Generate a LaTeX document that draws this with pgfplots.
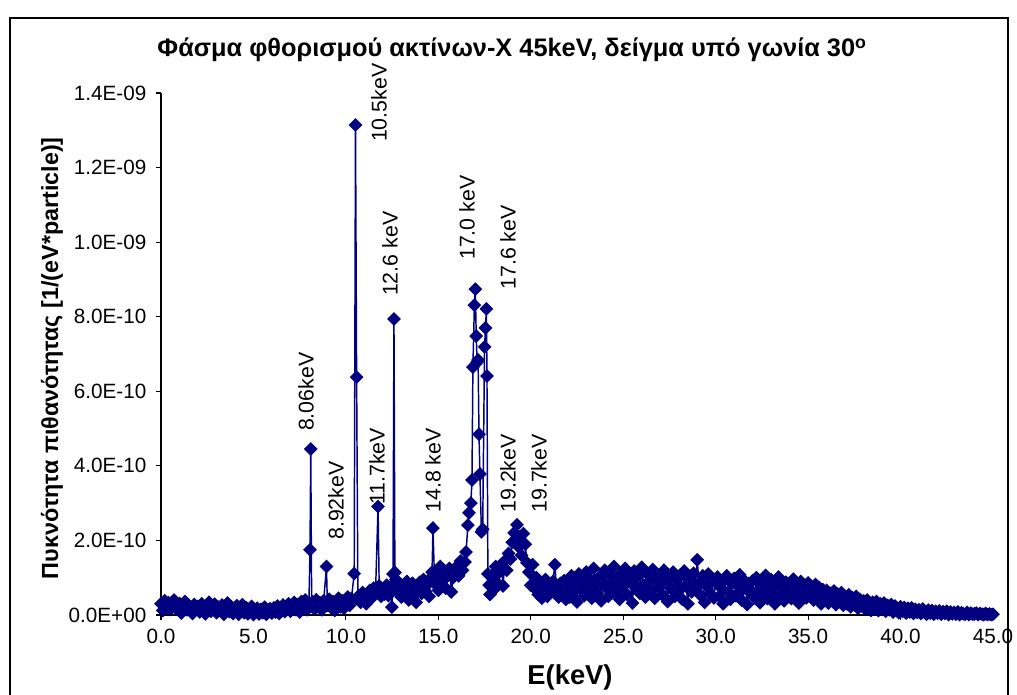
\documentclass[border=0pt]{standalone}
\usepackage{fontspec}
\setmainfont{Liberation Sans}
\usepackage{pgfplots}
\usepackage{pgfplotstable}
\pgfplotsset{compat=1.18}
\definecolor{navyx}{RGB}{0,0,128}
\pgfplotstableread{
x y
0.0 0.30
0.1 0.12
0.2 0.38
0.3 0.21
0.4 0.33
0.5 0.15
0.6 0.27
0.7 0.40
0.8 0.18
0.9 0.25
1.0 0.31
1.1 0.05
1.2 0.22
1.3 0.36
1.4 0.14
1.5 0.26
1.6 0.19
1.7 0.04
1.8 0.28
1.9 0.17
2.0 0.23
2.1 0.08
2.2 0.30
2.3 0.16
2.4 0.03
2.5 0.24
2.6 0.34
2.7 0.10
2.8 0.20
2.9 0.29
3.0 0.06
3.1 0.21
3.2 0.12
3.3 0.27
3.4 0.02
3.5 0.18
3.6 0.32
3.7 0.09
3.8 0.22
3.9 0.04
4.0 0.19
4.1 0.25
4.2 0.02
4.3 0.14
4.4 0.28
4.5 0.06
4.6 0.20
4.7 0.03
4.8 0.16
4.9 0.23
5.0 0.01
5.1 0.12
5.2 0.18
5.3 0.03
5.4 0.15
5.5 0.06
5.6 0.21
5.7 0.02
5.8 0.13
5.9 0.17
6.0 0.05
6.1 0.19
6.2 0.08
6.3 0.24
6.4 0.04
6.5 0.16
6.6 0.27
6.7 0.09
6.8 0.20
6.9 0.30
7.0 0.10
7.1 0.25
7.2 0.34
7.3 0.14
7.4 0.28
7.5 0.08
7.6 0.36
7.7 0.18
7.8 0.40
7.9 0.14
8.0 0.30
8.06 1.75
8.10 4.45
8.15 0.24
8.2 0.35
8.3 0.16
8.4 0.41
8.5 0.22
8.6 0.33
8.7 0.14
8.8 0.38
8.95 1.30
9.0 0.26
9.1 0.42
9.2 0.20
9.3 0.36
9.4 0.12
9.5 0.32
9.6 0.45
9.7 0.22
9.8 0.38
9.9 0.18
10.0 0.41
10.1 0.48
10.2 0.26
10.3 0.44
10.45 1.11
10.52 13.14
10.58 6.38
10.65 0.45
10.7 0.52
10.8 0.34
10.9 0.60
11.0 0.42
11.1 0.30
11.2 0.58
11.3 0.66
11.4 0.46
11.5 0.72
11.6 0.56
11.74 2.91
11.8 0.78
11.9 0.50
12.0 0.70
12.1 0.56
12.2 0.80
12.3 0.52
12.4 0.74
12.49 0.21
12.55 1.10
12.6 7.94
12.65 1.14
12.7 0.95
12.8 0.62
12.9 0.85
13.0 0.48
13.1 0.78
13.2 0.56
13.3 0.90
13.4 0.40
13.5 0.72
13.6 0.85
13.7 0.54
13.8 0.34
13.9 0.75
14.0 0.88
14.1 0.58
14.2 0.95
14.3 0.64
14.4 0.82
14.5 0.50
14.6 1.00
14.66 1.15
14.71 2.33
14.8 0.84
14.9 1.10
15.0 0.66
15.1 1.30
15.2 0.90
15.3 1.20
15.4 0.72
15.5 1.05
15.6 1.25
15.7 0.62
15.8 1.00
15.9 1.15
16.0 1.30
16.1 1.05
16.2 1.45
16.3 1.20
16.44 1.42
16.50 1.69
16.60 2.41
16.66 2.74
16.76 3.00
16.82 3.62
16.87 6.65
16.95 8.31
17.00 8.74
17.05 7.48
17.10 6.78
17.15 6.84
17.20 4.85
17.25 3.78
17.33 2.23
17.40 2.30
17.50 7.19
17.55 7.70
17.60 8.21
17.63 6.41
17.68 1.10
17.75 0.80
17.8 0.55
17.9 1.05
18.0 0.68
18.1 1.30
18.2 0.85
18.3 1.15
18.4 1.35
18.5 0.78
18.6 1.45
18.7 1.20
18.8 1.65
18.9 1.50
19.0 1.95
19.1 2.20
19.25 2.42
19.3 1.85
19.4 2.10
19.5 1.60
19.6 2.18
19.7 1.90
19.8 1.40
19.9 1.15
20.0 0.80
20.1 1.35
20.2 0.72
20.3 1.00
20.4 0.55
20.5 0.90
20.6 0.45
20.7 0.78
20.8 0.95
20.9 0.50
21.0 0.82
21.1 0.62
21.2 0.90
21.3 1.35
21.4 0.68
21.5 0.48
21.6 0.85
21.7 0.55
21.8 0.92
21.9 0.42
22.0 0.80
22.1 0.48
22.2 1.05
22.3 0.62
22.4 0.92
22.5 0.35
22.6 1.10
22.7 0.70
22.8 0.88
22.9 0.52
23.0 1.15
23.1 0.66
23.2 0.95
23.3 0.45
23.4 1.25
23.5 0.80
23.6 0.58
23.7 1.02
23.8 0.38
23.9 0.90
24.0 1.20
24.1 0.72
24.2 0.50
24.3 1.08
24.4 0.84
24.5 1.30
24.6 0.62
24.7 0.95
24.8 0.42
24.9 1.12
25.0 0.78
25.1 1.25
25.2 0.55
25.3 1.00
25.4 0.86
25.5 0.32
25.6 1.18
25.7 0.70
25.8 1.05
25.9 0.58
26.0 1.28
26.1 0.80
26.2 0.48
26.3 1.10
26.4 0.88
26.5 0.64
26.6 1.22
26.7 0.45
26.8 0.98
26.9 0.74
27.0 1.05
27.1 0.55
27.2 1.20
27.3 0.84
27.4 0.36
27.5 1.02
27.6 0.70
27.7 1.15
27.8 0.50
27.9 0.94
28.0 0.64
28.1 1.08
28.2 0.42
28.3 1.18
28.4 0.80
28.5 0.30
28.6 0.98
28.7 0.62
28.8 1.12
28.9 0.74
29.0 1.48
29.1 0.86
29.2 0.52
29.3 1.05
29.4 0.34
29.5 0.78
29.6 1.10
29.7 0.58
29.8 0.95
29.9 0.46
30.0 0.88
30.1 1.02
30.2 0.50
30.3 0.72
30.4 0.30
30.5 0.94
30.6 1.05
30.7 0.62
30.8 0.42
30.9 0.85
31.0 0.98
31.1 0.52
31.2 0.78
31.3 1.08
31.4 0.40
31.5 0.70
31.6 0.90
31.7 0.28
31.8 0.84
31.9 0.58
32.0 0.92
32.1 0.46
32.2 1.00
32.3 0.66
32.4 0.33
32.5 0.86
32.6 0.55
32.7 1.06
32.8 0.44
32.9 0.76
33.0 0.95
33.1 0.60
33.2 0.30
33.3 0.80
33.4 1.02
33.5 0.50
33.6 0.74
33.7 0.38
33.8 0.88
33.9 0.62
34.0 0.84
34.1 0.44
34.2 0.96
34.3 0.58
34.4 0.76
34.5 0.32
34.6 0.90
34.7 0.54
34.8 0.80
34.9 0.46
35.0 0.86
35.1 0.56
35.2 0.72
35.3 0.40
35.4 0.82
35.5 0.50
35.6 0.74
35.7 0.30
35.8 0.68
35.9 0.46
36.0 0.66
36.1 0.32
36.2 0.58
36.3 0.42
36.4 0.64
36.5 0.28
36.6 0.56
36.7 0.36
36.8 0.60
36.9 0.26
37.0 0.50
37.1 0.30
37.2 0.54
37.3 0.22
37.4 0.46
37.5 0.28
37.6 0.50
37.7 0.18
37.8 0.42
37.9 0.24
38.0 0.38
38.1 0.16
38.2 0.40
38.3 0.22
38.4 0.12
38.5 0.34
38.6 0.20
38.7 0.36
38.8 0.12
38.9 0.30
39.0 0.16
39.1 0.32
39.2 0.10
39.3 0.26
39.4 0.14
39.5 0.28
39.6 0.08
39.7 0.24
39.8 0.12
39.9 0.06
40.0 0.22
40.1 0.10
40.2 0.20
40.3 0.05
40.4 0.18
40.5 0.08
40.6 0.19
40.7 0.04
40.8 0.15
40.9 0.07
41.0 0.14
41.1 0.04
41.2 0.16
41.3 0.07
41.4 0.02
41.5 0.13
41.6 0.05
41.7 0.12
41.8 0.02
41.9 0.10
42.0 0.05
42.1 0.11
42.2 0.02
42.3 0.09
42.4 0.04
42.5 0.10
42.6 0.01
42.7 0.08
42.8 0.03
42.9 0.07
43.0 0.02
43.1 0.08
43.2 0.01
43.3 0.06
43.4 0.03
43.5 0.02
43.6 0.07
43.7 0.01
43.8 0.05
43.9 0.02
44.0 0.03
44.1 0.05
44.2 0.01
44.3 0.04
44.4 0.02
44.5 0.01
44.6 0.04
44.7 0.01
44.8 0.03
44.9 0.01
45.0 0.02
}\spectrum
\begin{document}
\begin{tikzpicture}
\useasboundingbox (-120.75pt,-60pt) rectangle (642pt,461.25pt);
\draw[line width=0.8pt] (-113.25pt,-80pt) rectangle (635.25pt,447.75pt);
\begin{axis}[
  at={(0pt,0pt)}, anchor=south west,
  scale only axis, width=624pt, height=391.5pt,
  xmin=0, xmax=45, ymin=0, ymax=14,
  axis x line=bottom, axis y line=left,
  axis line style={-, line width=0.8pt},
  tick align=outside, major tick length=4pt,
  tick style={black, line width=0.8pt},
  xtick={0,5,...,45},
  ytick={0,2,...,14},
  yticklabels={0.0E+00,2.0E-10,4.0E-10,6.0E-10,8.0E-10,1.0E-09,1.2E-09,1.4E-09},
  /pgf/number format/fixed, /pgf/number format/fixed zerofill,
  /pgf/number format/precision=1, /pgf/number format/assume math mode=true,
  tick label style={font=\fontsize{15.5}{17}\selectfont},
  xticklabel style={yshift=-3pt},
  yticklabel style={xshift=-3.5pt},
  clip=false,
  every axis title shift=0pt,
  title={Φάσμα φθορισμού ακτίνων-X 45keV, δείγμα υπό γωνία 30\textsuperscript{o}},
  title style={font=\bfseries\fontsize{19}{21}\selectfont, at={(axis description cs:0.4219,1.069)}, anchor=base},
  xlabel={E(keV)},
  xlabel style={font=\bfseries\fontsize{20.5}{22}\selectfont, at={(axis description cs:0.4916,-0.134)}, anchor=base},
  ylabel={Πυκνότητα πιθανότητας [1/(eV*particle)]},
  ylabel style={font=\bfseries\fontsize{17.5}{20}\selectfont, at={(axis description cs:-0.131,0.492)}, anchor=center},
]
\addplot[color=navyx, line width=1.1pt, mark=diamond*, mark size=4.4pt,
  mark options={solid, fill=navyx, draw=navyx, xscale=1.33}] table[x=x, y=y] {\spectrum};
\begin{scope}[every node/.style={rotate=90, anchor=west, inner sep=0pt, font=\fontsize{16}{18}\selectfont}]
\node at (axis cs:7.84,4.93) {8.06keV};
\node at (axis cs:9.47,2.01) {8.92keV};
\node at (axis cs:11.79,12.68) {10.5keV};
\node at (axis cs:11.68,2.95) {11.7keV};
\node at (axis cs:12.39,8.55) {12.6 keV};
\node at (axis cs:14.71,2.74) {14.8 keV};
\node at (axis cs:16.55,9.52) {17.0 keV};
\node at (axis cs:18.77,8.72) {17.6 keV};
\node at (axis cs:18.77,2.74) {19.2keV};
\node at (axis cs:20.44,2.74) {19.7keV};
\end{scope}
\end{axis}
\end{tikzpicture}
\end{document}
